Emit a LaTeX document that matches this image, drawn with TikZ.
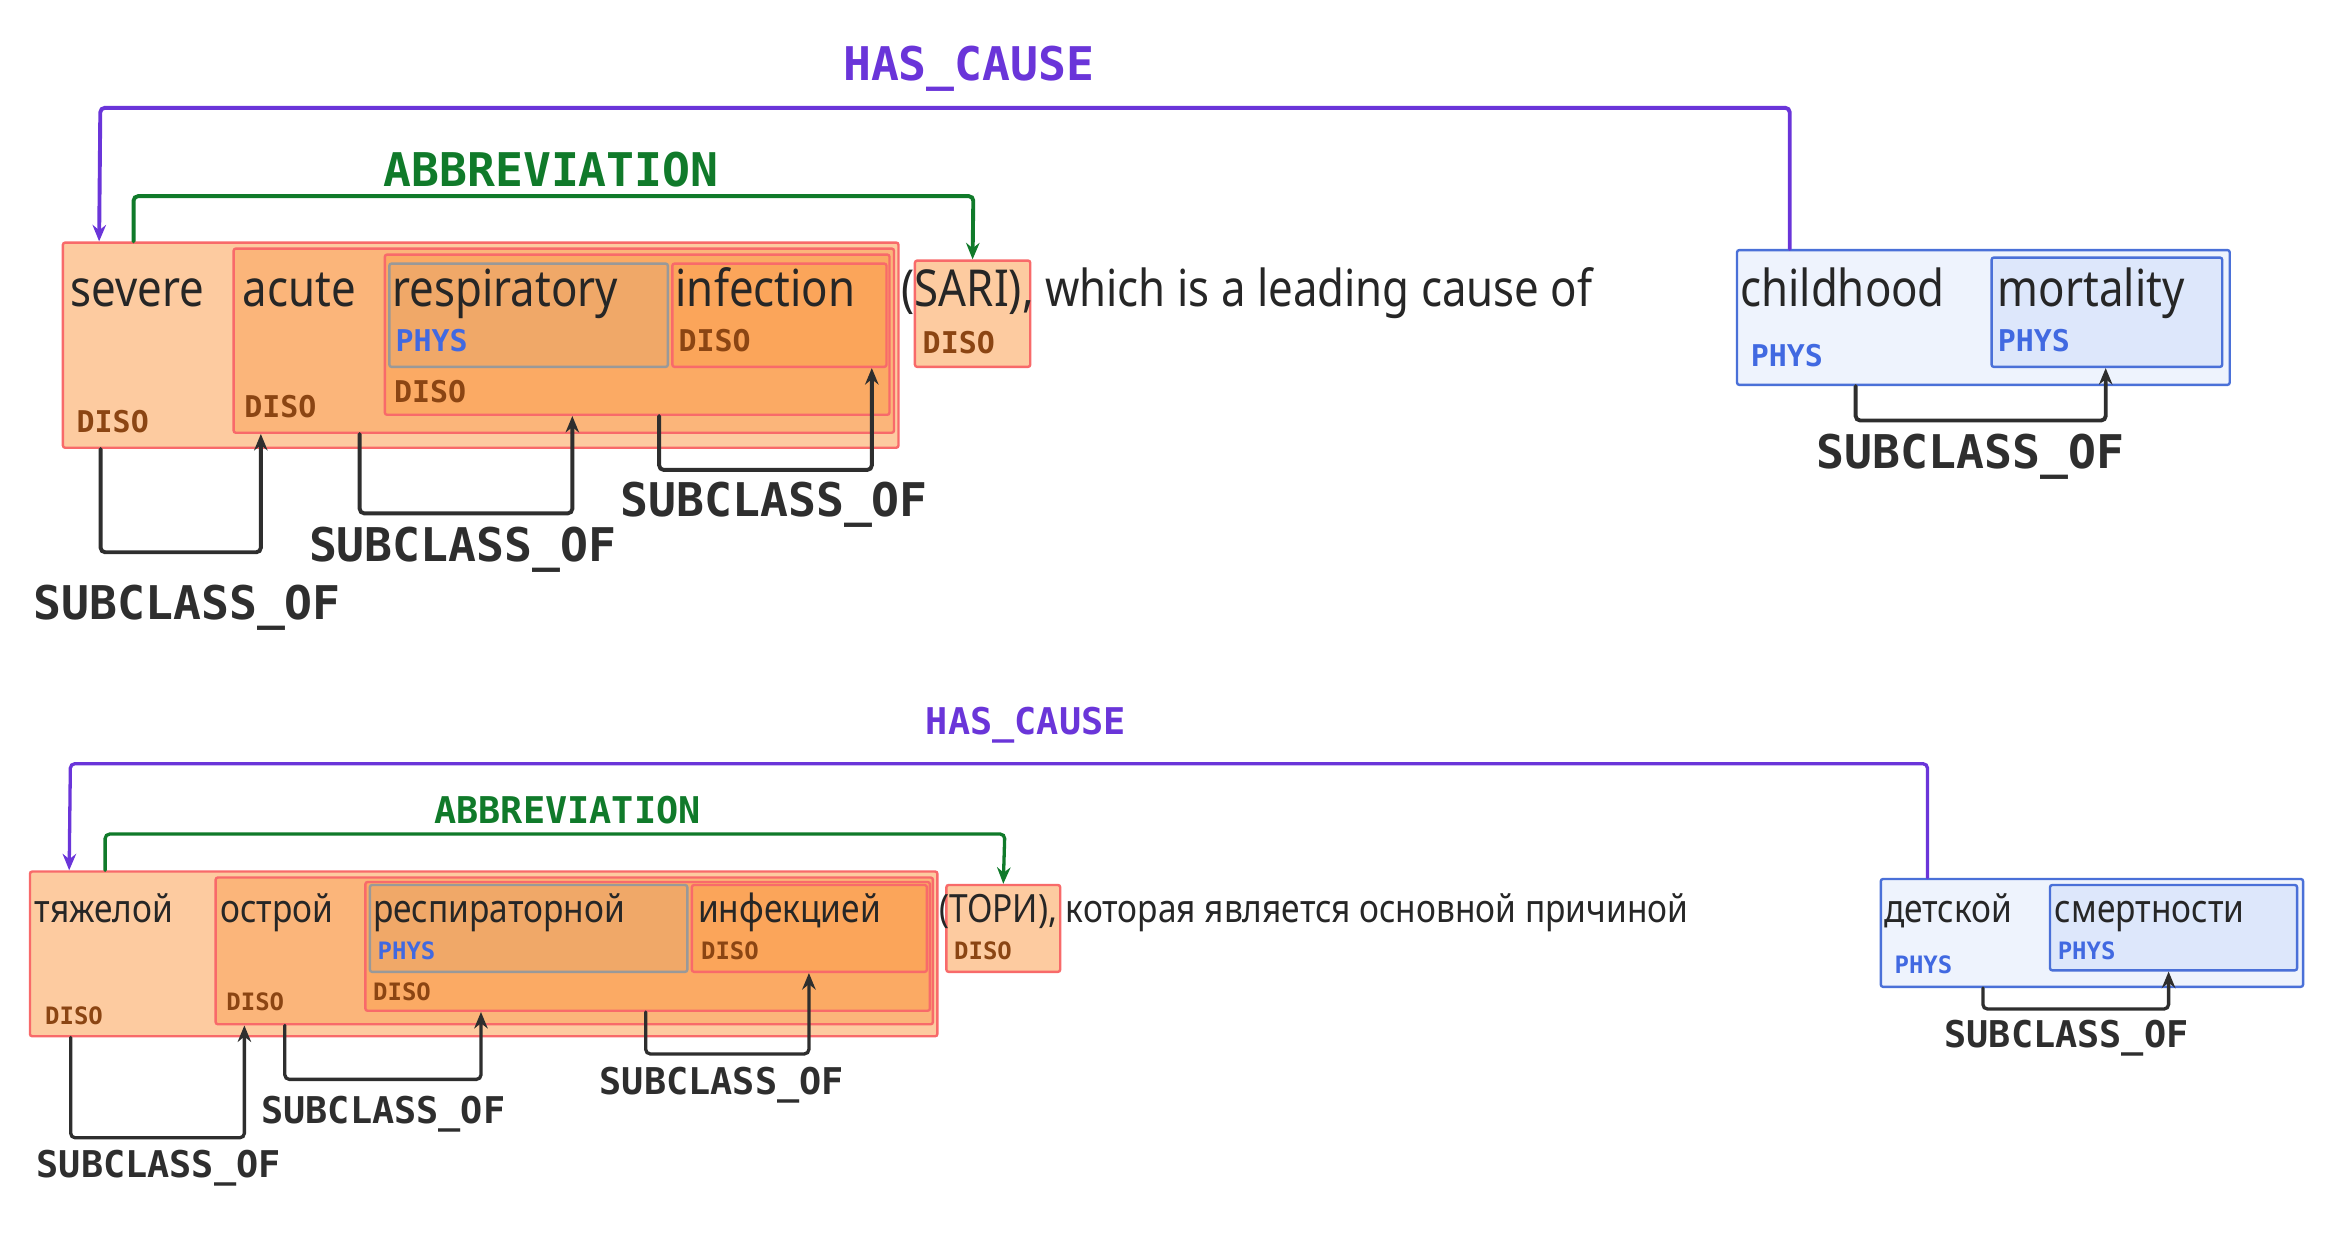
\documentclass[tikz,border=0pt]{standalone}
\usepackage{fontspec}
\usetikzlibrary{fit,arrows.meta}
\newfontfamily\wordfont{Noto Sans}[FakeStretch=0.86]
\newfontfamily\tagfont{DejaVu Sans Mono}[BoldFont={DejaVu Sans Mono Bold}]
\definecolor{disoA}{HTML}{FDCBA0}
\definecolor{disoB}{HTML}{FBB57A}
\definecolor{disoC}{HTML}{FBAA64}
\definecolor{physO}{HTML}{F0A868}
\definecolor{disoD}{HTML}{FBA55A}
\definecolor{redline}{HTML}{F86A6A}
\definecolor{blueline}{HTML}{4A70D8}
\definecolor{physA}{HTML}{EEF3FD}
\definecolor{physB}{HTML}{DDE7FB}
\definecolor{disotxt}{HTML}{8B4513}
\definecolor{phystxt}{HTML}{4169E1}
\definecolor{cause}{HTML}{6A35D9}
\definecolor{abbr}{HTML}{107A2A}
\definecolor{subc}{HTML}{2E2E2E}
\begin{document}
\begin{tikzpicture}[x=1pt,y=-1pt,line cap=round]
        %
        % `span' boxes are entity mentions, `tag' their type labels.
        % `rel' is used for the relation connectors.
        \tikzset{
          span/.style={draw=redline,line width=1.6pt,rounded corners=1.5pt,inner sep=0pt},
          pspan/.style={draw=blueline,line width=1.6pt,rounded corners=1.5pt,inner sep=0pt},
          word/.style={anchor=base west,inner sep=0pt,font=\wordfont\fontsize{34}{36}\selectfont,text=black!85},
          wordS/.style={word,font=\wordfont\fontsize{26}{28}\selectfont},
          tag/.style={anchor=base west,inner sep=0pt,font=\tagfont\bfseries\fontsize{20}{22}\selectfont},
          tagS/.style={tag,font=\tagfont\bfseries\fontsize{16}{18}\selectfont},
          rel/.style={line width=2.6pt,rounded corners=3pt,-{Stealth[length=11pt,width=9pt]}},
          lab/.style={inner sep=0pt,font=\tagfont\bfseries\fontsize{31}{33}\selectfont},
          labS/.style={lab,font=\tagfont\bfseries\fontsize{24.6}{26}\selectfont}
        }
        \useasboundingbox (0,0) rectangle (1560,830.7);
        %
        % English sentence: boxes
        \node[span,fill=disoA,fit={(42,162) (600,299)}] (sev) {};
        \node[span,fill=disoB,fit={(156,166) (597,289)}] (acu) {};
        \node[span,fill=disoC,fit={(257,170) (594,277)}] (rsi) {};
        \node[span,fill=physO,draw=gray!80,fit={(260,176) (446,245)}] (res) {};
        \node[span,fill=disoD,fit={(449,176) (592,245)}] (inf) {};
        \node[span,fill=disoA,fit={(611,174) (688,245)}] (sari) {};
        \node[pspan,fill=physA,fit={(1160,167) (1489,257)}] (chi) {};
        \node[pspan,fill=physB,fit={(1330,172) (1484,245)}] (mor) {};
        % words
        \node[word] (w1) at (47,205) {severe};
        \node[word] (w2) at (162,205) {acute};
        \node[word] (w3) at (262,205) {respiratory};
        \node[word] (w4) at (451,205) {infection};
        \node[word] (w5) at (602,205) {(SARI), which is a leading cause of};
        \node[word] (w6) at (1162,205) {childhood};
        \node[word] (w7) at (1334,205) {mortality};
        % tags
        \node[tag,text=disotxt] (t1) at (51,289) {DISO};
        \node[tag,text=disotxt] (t2) at (163,279) {DISO};
        \node[tag,text=disotxt] (t3) at (263,269) {DISO};
        \node[tag,text=phystxt] (t4) at (264,235) {PHYS};
        \node[tag,text=disotxt] (t5) at (453,235) {DISO};
        \node[tag,text=disotxt] (t6) at (616,236) {DISO};
        \node[tag,text=phystxt] (t7) at (1169,245) {PHYS};
        \node[tag,text=phystxt] (t8) at (1334,235) {PHYS};
        % relations
        \node[lab,text=cause] (hc1) at (647,46) {HAS\_CAUSE};
        \draw[rel,cause] ([xshift=36]chi.north west) |- (67,72) -- ([xshift=25]sev.north west);
        \node[lab,text=abbr] (ab1) at (368,113) {ABBREVIATION};
        \draw[rel,abbr] ([xshift=48]sev.north west) |- (650,131) -- (sari.north);
        \draw[rel,subc] ([xshift=26]sev.south west) -- ++(0,69) -| ([xshift=19]acu.south west);
        \node[lab,text=subc] (sc1) at (125,406) {SUBCLASS\_OF};
        \draw[rel,subc] ([xshift=85]acu.south west) -- ++(0,53) -| ([xshift=126]rsi.south west);
        \node[lab,text=subc] (sc2) at (309,367) {SUBCLASS\_OF};
        \draw[rel,subc] ([xshift=184]rsi.south west) -- ++(0,36) -| ([xshift=134]inf.south west);
        \node[lab,text=subc] (sc3) at (517,337) {SUBCLASS\_OF};
        \draw[rel,subc] ([xshift=80]chi.south west) -- ++(0,23) -| ([xshift=77]mor.south west);
        \node[lab,text=subc] (sc4) at (1316,305) {SUBCLASS\_OF};
        %
        % Russian sentence: boxes
        \node[span,fill=disoA,fit={(20,582) (626,692)}] (tya) {};
        \node[span,fill=disoB,fit={(144,586) (623,684)}] (ost) {};
        \node[span,fill=disoC,fit={(244,589) (621,675)}] (rin) {};
        \node[span,fill=physO,draw=gray!80,fit={(247,591) (459,649)}] (rsp) {};
        \node[span,fill=disoD,fit={(462,591) (619,649)}] (ink) {};
        \node[span,fill=disoA,fit={(632,591) (708,649)}] (tori) {};
        \node[pspan,fill=physA,fit={(1256,587) (1538,659)}] (det) {};
        \node[pspan,fill=physB,fit={(1369,591) (1534,648)}] (sme) {};
        % words
        \node[wordS] (r1) at (23,616) {тяжелой};
        \node[wordS] (r2) at (147,616) {острой};
        \node[wordS] (r3) at (249,616) {респираторной};
        \node[wordS] (r4) at (466,616) {инфекцией};
        \node[wordS] (r5) at (627,616) {(ТОРИ), которая является основной причиной};
        \node[wordS] (r6) at (1258,616) {детской};
        \node[wordS] (r7) at (1372,616) {смертности};
        % tags
        \node[tagS,text=disotxt] (s1) at (30,684) {DISO};
        \node[tagS,text=disotxt] (s2) at (151,675) {DISO};
        \node[tagS,text=disotxt] (s3) at (249,668) {DISO};
        \node[tagS,text=phystxt] (s4) at (252,641) {PHYS};
        \node[tagS,text=disotxt] (s5) at (468,641) {DISO};
        \node[tagS,text=disotxt] (s6) at (637,641) {DISO};
        \node[tagS,text=phystxt] (s7) at (1265,650) {PHYS};
        \node[tagS,text=phystxt] (s8) at (1374,641) {PHYS};
        % relations
        \node[labS,text=cause] (hc2) at (685,484) {HAS\_CAUSE};
        \draw[rel,cause,line width=2.2pt] ([xshift=32]det.north west) |- (47,510) -- ([xshift=27]tya.north west);
        \node[labS,text=abbr] (ab2) at (379,541) {ABBREVIATION};
        \draw[rel,abbr,line width=2.2pt] ([xshift=51]tya.north west) |- (671,557) -- (tori.north);
        \draw[rel,subc,line width=2.2pt] ([xshift=28]tya.south west) -- ++(0,67) -| ([xshift=20]ost.south west);
        \node[labS,text=subc] (sd1) at (106,780) {SUBCLASS\_OF};
        \draw[rel,subc,line width=2.2pt] ([xshift=47]ost.south west) -- ++(0,36) -| ([xshift=78]rin.south west);
        \node[labS,text=subc] (sd2) at (256,744) {SUBCLASS\_OF};
        \draw[rel,subc,line width=2.2pt] ([xshift=188]rin.south west) -- ++(0,28) -| ([xshift=79]ink.south west);
        \node[labS,text=subc] (sd3) at (482,725) {SUBCLASS\_OF};
        \draw[rel,subc,line width=2.2pt] ([xshift=69]det.south west) -- ++(0,14) -| ([xshift=80]sme.south west);
        \node[labS,text=subc] (sd4) at (1380,693) {SUBCLASS\_OF};
\end{tikzpicture}
\end{document}
